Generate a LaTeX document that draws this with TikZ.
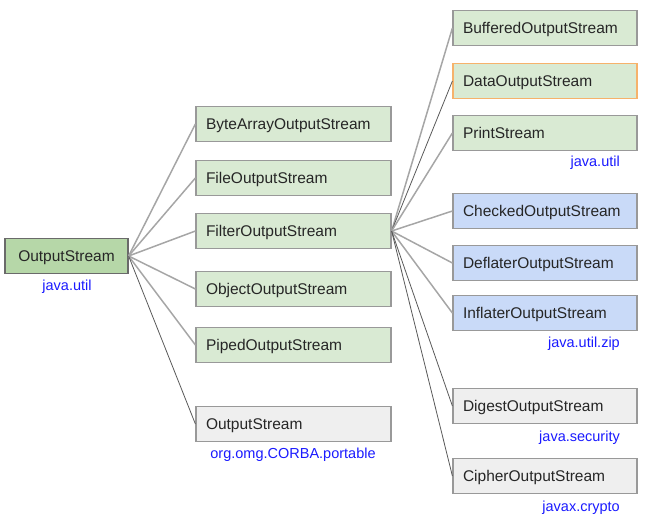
\documentclass[tikz,border=0pt]{standalone}
\usepackage{fontspec}
\setmainfont{Liberation Sans}
\definecolor{lgreen}{HTML}{D9EAD3}
\definecolor{dgreen}{HTML}{B6D7A8}
\definecolor{lblue}{HTML}{C9DAF8}
\definecolor{lgray}{HTML}{EFEFEF}
\definecolor{bord}{HTML}{999999}
\definecolor{orng}{HTML}{F6B26B}
\definecolor{pkg}{HTML}{1A1AFF}
\definecolor{soft}{HTML}{A6A6A6}
\definecolor{hard}{HTML}{595959}
\tikzset{
  box/.style={draw=bord, line width=1.2pt, minimum height=35pt, inner xsep=10pt, inner ysep=0pt, text height=12pt, text depth=2pt, font=\fontsize{15.5}{18}\selectfont, text=black!85},
  midbox/.style={box, text width=175pt, align=left},
  rbox/.style={box, text width=164pt, align=left},
  pkglabel/.style={text=pkg, font=\fontsize{14.5}{17}\selectfont, inner sep=0pt},
  softline/.style={draw=soft, line width=1.5pt},
  hardline/.style={draw=hard, line width=0.8pt},
}
\begin{document}
\begin{tikzpicture}[x=1pt,y=-1pt]
\useasboundingbox (0,0) rectangle (645,525);
% root
\node[box, fill=dgreen, draw=hard!90, minimum width=123pt, inner xsep=0pt] (root) at (66.5,256) {OutputStream};
\node[pkglabel] (rootpkg) at (67,287) {java.util};
% middle column
\node[midbox, fill=lgreen] (bytearr) at (293.5,124) {ByteArrayOutputStream};
\node[midbox, fill=lgreen] (file) at (293.5,178) {FileOutputStream};
\node[midbox, fill=lgreen] (filter) at (293.5,231) {FilterOutputStream};
\node[midbox, fill=lgreen] (object) at (293.5,289) {ObjectOutputStream};
\node[midbox, fill=lgreen] (piped) at (293.5,345) {PipedOutputStream};
\node[midbox, fill=lgray] (corba) at (293.5,424) {OutputStream};
\node[pkglabel] (corbapkg) at (293,455) {org.omg.CORBA.portable};
% right column
\node[rbox, fill=lgreen] (buffered) at (545,28) {BufferedOutputStream};
\node[rbox, fill=lgreen, draw=orng] (data) at (545,81) {DataOutputStream};
\node[rbox, fill=lgreen] (print) at (545,133) {PrintStream};
\node[pkglabel, anchor=east] (printpkg) at (620,163) {java.util};
\node[rbox, fill=lblue] (checked) at (545,211) {CheckedOutputStream};
\node[rbox, fill=lblue] (deflater) at (545,263) {DeflaterOutputStream};
\node[rbox, fill=lblue] (inflater) at (545,313) {InflaterOutputStream};
\node[pkglabel, anchor=east] (zippkg) at (620,344) {java.util.zip};
\node[rbox, fill=lgray] (digest) at (545,406) {DigestOutputStream};
\node[pkglabel, anchor=east] (secpkg) at (620,438) {java.security};
\node[rbox, fill=lgray] (cipher) at (545,476) {CipherOutputStream};
\node[pkglabel, anchor=east] (cryptopkg) at (620,508) {javax.crypto};
% connectors from root
\draw[softline] (root.east) -- (bytearr.west);
\draw[softline] (root.east) -- (file.west);
\draw[softline] (root.east) -- (filter.west);
\draw[softline] (root.east) -- (object.west);
\draw[softline] (root.east) -- (piped.west);
\draw[hardline] (root.east) -- (corba.west);
% connectors from filter
\draw[softline] (filter.east) -- (buffered.west);
\draw[hardline] (filter.east) -- (data.west);
\draw[softline] (filter.east) -- (print.west);
\draw[softline] (filter.east) -- (checked.west);
\draw[softline] (filter.east) -- (deflater.west);
\draw[softline] (filter.east) -- (inflater.west);
\draw[hardline] (filter.east) -- (digest.west);
\draw[hardline] (filter.east) -- (cipher.west);
\end{tikzpicture}
\end{document}
